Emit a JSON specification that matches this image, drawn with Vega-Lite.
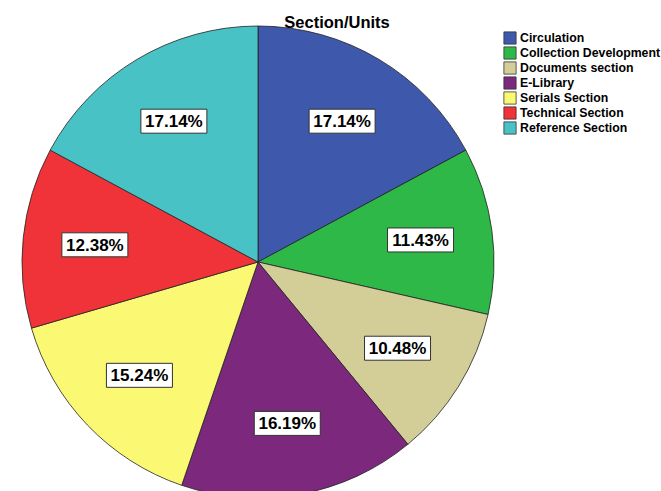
{
  "$schema": "https://vega.github.io/schema/vega-lite/v6.json",
  "autosize": "none",
  "padding": {"left": 0, "top": 28, "right": 145, "bottom": 0},
  "width": 516,
  "height": 468,
  "background": "white",
  "title": {"text": "Section/Units", "font": "Liberation Sans", "fontSize": 16.5, "fontWeight": "bold", "color": "black", "anchor": "middle", "dx": 79, "offset": 5, "dy": 12},
  "data": {"values": [
    {"section": "Circulation", "pct": 17.14, "order": 1},
    {"section": "Collection Development", "pct": 11.43, "order": 2},
    {"section": "Documents section", "pct": 10.48, "order": 3},
    {"section": "E-Library", "pct": 16.19, "order": 4},
    {"section": "Serials Section", "pct": 15.24, "order": 5},
    {"section": "Technical Section", "pct": 12.38, "order": 6},
    {"section": "Reference Section", "pct": 17.14, "order": 7}
  ]},
  "transform": [
    {"joinaggregate": [{"op": "sum", "field": "pct", "as": "total"}]},
    {"window": [{"op": "sum", "field": "pct", "as": "cum"}], "sort": [{"field": "order"}], "frame": [null, 0]},
    {"calculate": "2*PI*(datum.cum - datum.pct/2)/datum.total", "as": "mid"},
    {"calculate": "0.695*sin(datum.mid)", "as": "lx"},
    {"calculate": "0.695*cos(datum.mid)", "as": "ly"},
    {"calculate": "format(datum.pct/100, '.2%')", "as": "label"}
  ],
  "layer": [
    {
      "mark": {"type": "arc", "outerRadius": 236, "stroke": "#222222", "strokeWidth": 0.8},
      "encoding": {
        "theta": {"field": "pct", "type": "quantitative", "stack": true},
        "order": {"field": "order", "type": "quantitative"},
        "color": {
          "field": "section", "type": "nominal",
          "scale": {
            "domain": ["Circulation", "Collection Development", "Documents section", "E-Library", "Serials Section", "Technical Section", "Reference Section"],
            "range": ["#3E58AC", "#2EB848", "#D3CE97", "#7C287D", "#FBF873", "#EF3338", "#48C2C5"]
          },
          "legend": {
            "orient": "none", "legendX": 503, "legendY": 3, "title": null,
            "symbolType": "square", "symbolSize": 150, "symbolStrokeColor": "#333333", "symbolStrokeWidth": 0.8, "symbolOpacity": 1,
            "labelFont": "Liberation Sans", "labelFontSize": 12.3, "labelFontWeight": "bold", "labelColor": "black",
            "labelOffset": 3, "rowPadding": -1, "labelLimit": 300
          }
        }
      }
    },
    {
      "mark": {"type": "point", "shape": "M-1,-0.3636H1V0.3636H-1Z", "size": 4356, "filled": true, "fill": "white", "stroke": "#333333", "strokeWidth": 1, "opacity": 1},
      "encoding": {
        "x": {"field": "lx", "type": "quantitative", "scale": {"domain": [-1.0932, 1.0932], "nice": false, "zero": false}, "axis": null},
        "y": {"field": "ly", "type": "quantitative", "scale": {"domain": [-0.9915, 0.9915], "nice": false, "zero": false}, "axis": null}
      }
    },
    {
      "mark": {"type": "text", "font": "Liberation Sans", "fontSize": 17, "fontWeight": "bold", "color": "black", "align": "center", "baseline": "middle", "dy": 1},
      "encoding": {
        "x": {"field": "lx", "type": "quantitative"},
        "y": {"field": "ly", "type": "quantitative"},
        "text": {"field": "label", "type": "nominal"}
      }
    }
  ],
  "config": {"view": {"stroke": null}}
}
